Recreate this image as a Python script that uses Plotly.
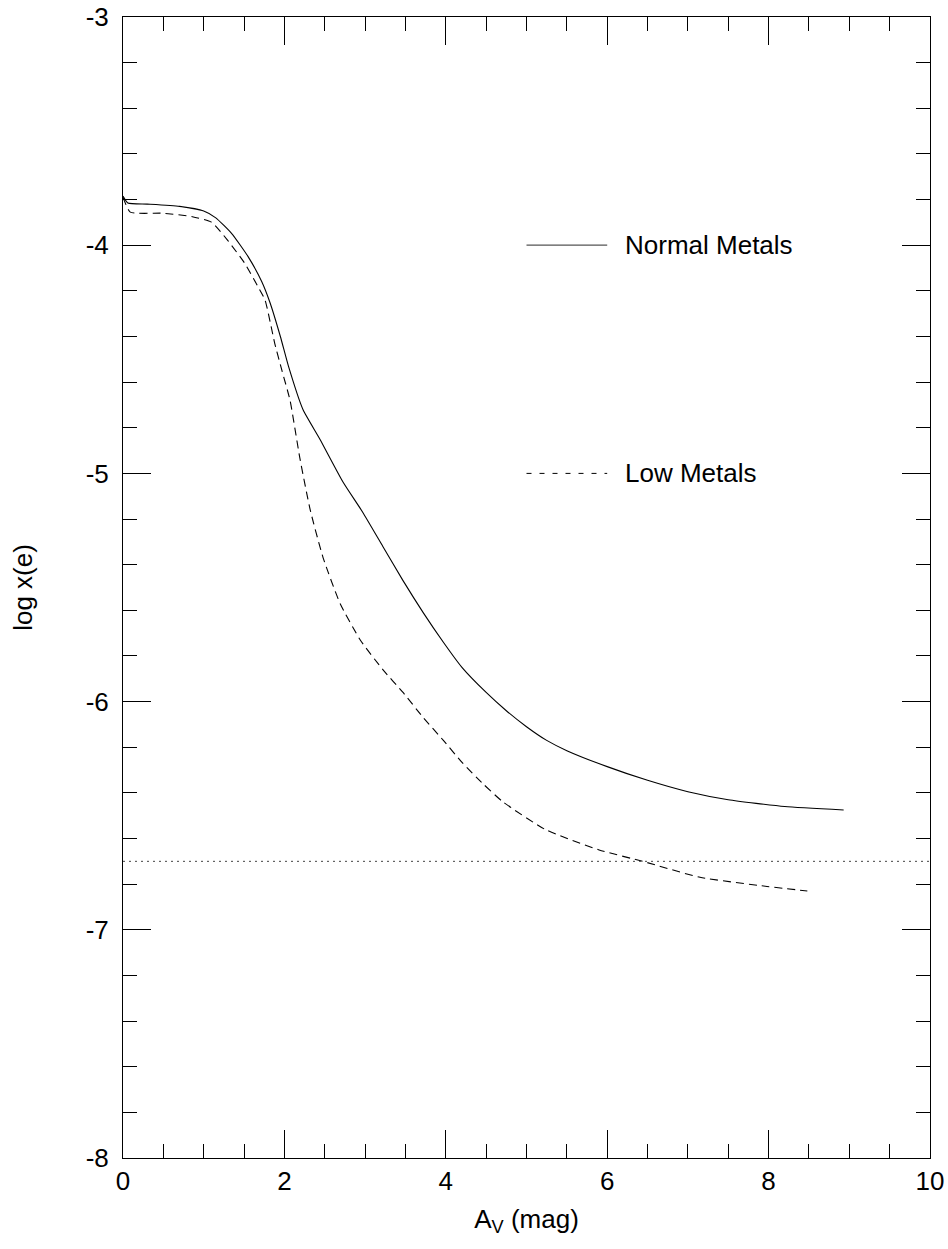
import plotly.graph_objects as go

# Normal metals curve
normal_x = [0.0, 0.06, 0.3, 0.7, 1.0, 1.15, 1.35, 1.55, 1.72, 1.82, 1.95, 2.05, 2.23,
            2.44, 2.73, 2.97, 3.22, 3.47, 3.72, 3.97, 4.2, 4.5, 4.75, 5.0, 5.25, 5.5,
            6.0, 6.5, 7.0, 7.5, 8.2, 8.93]
normal_y = [-3.785, -3.815, -3.82, -3.83, -3.85, -3.88, -3.95, -4.05, -4.16, -4.25, -4.40,
            -4.53, -4.72, -4.85, -5.04, -5.17, -5.32, -5.47, -5.61, -5.74, -5.85, -5.96,
            -6.04, -6.11, -6.17, -6.215, -6.285, -6.345, -6.395, -6.43, -6.46, -6.475]

# Low metals curve
low_x = [0.0, 0.09, 0.5, 0.86, 1.1, 1.3, 1.51, 1.67, 1.76, 1.88, 1.97, 2.07, 2.19, 2.32,
         2.48, 2.69, 2.94, 3.22, 3.47, 3.72, 3.97, 4.21, 4.46, 4.71, 5.23, 5.9, 6.44,
         7.15, 7.98, 8.48]
low_y = [-3.79, -3.855, -3.86, -3.875, -3.90, -3.98, -4.08, -4.18, -4.24, -4.43, -4.55,
         -4.68, -4.93, -5.16, -5.37, -5.57, -5.73, -5.86, -5.96, -6.07, -6.17, -6.27,
         -6.36, -6.44, -6.56, -6.65, -6.70, -6.77, -6.81, -6.83]

# Horizontal reference level
ref_x = [0, 10]
ref_y = [-6.7, -6.7]

# Axis ticks
x_ticks = [0, 2, 4, 6, 8, 10]
x_tick_labels = ["0", "2", "4", "6", "8", "10"]
y_ticks = [-3, -4, -5, -6, -7, -8]
y_tick_labels = ["-3", "-4", "-5", "-6", "-7", "-8"]

# In-plot key
key_labels = ["Normal Metals", "Low Metals"]
key_y = [-4.0, -5.0]
key_line_x = [5.0, 6.0]
key_text_x = 6.2

FONT = "Liberation Sans, Arial, Helvetica, sans-serif"

fig = go.Figure()
fig.add_trace(go.Scatter(x=normal_x, y=normal_y, mode="lines",
                         line=dict(color="black", width=1.1, shape="spline", smoothing=0.5)))
fig.add_trace(go.Scatter(x=low_x, y=low_y, mode="lines",
                         line=dict(color="black", width=1.1, dash="8px,5px",
                                   shape="spline", smoothing=0.5)))
fig.add_trace(go.Scatter(x=ref_x, y=ref_y, mode="lines",
                         line=dict(color="#444", width=1, dash="2px,4px")))
# key lines
fig.add_trace(go.Scatter(x=key_line_x, y=[key_y[0]] * 2, mode="lines",
                         line=dict(color="#555", width=1.2)))
fig.add_trace(go.Scatter(x=key_line_x, y=[key_y[1]] * 2, mode="lines",
                         line=dict(color="black", width=1, dash="5px,8px")))
for lab, yy in zip(key_labels, key_y):
    fig.add_annotation(x=key_text_x, y=yy, text=lab, showarrow=False,
                       xanchor="left", yanchor="middle",
                       font=dict(family=FONT, size=26, color="black"))

axis_common = dict(showline=True, linecolor="black", linewidth=1, mirror="ticks",
                   ticks="inside", tickcolor="black", tickwidth=1, ticklen=28,
                   showgrid=False, zeroline=False, automargin=False,
                   tickfont=dict(family=FONT, size=26, color="black"))

fig.update_layout(
    width=948, height=1249,
    margin=dict(l=123, r=18, t=17, b=91),
    paper_bgcolor="white", plot_bgcolor="white",
    showlegend=False,
    xaxis=dict(range=[0, 10], tickmode="array", tickvals=x_ticks, ticktext=x_tick_labels,
               minor=dict(tickmode="linear", tick0=0, dtick=0.5, ticks="inside",
                          ticklen=14, tickcolor="black", tickwidth=1, showgrid=False),
               title=dict(text="A<sub>V</sub> (mag)", standoff=14,
                          font=dict(family=FONT, size=26, color="black")),
               **axis_common),
    yaxis=dict(range=[-8, -3], tickmode="array", tickvals=y_ticks, ticktext=y_tick_labels,
               minor=dict(tickmode="linear", tick0=-8, dtick=0.2, ticks="inside",
                          ticklen=14, tickcolor="black", tickwidth=1, showgrid=False),
               title=dict(text="log x(e)", standoff=45,
                          font=dict(family=FONT, size=26, color="black")),
               ticklabelstandoff=8,
               **axis_common),
)

fig.write_html("out.html")
